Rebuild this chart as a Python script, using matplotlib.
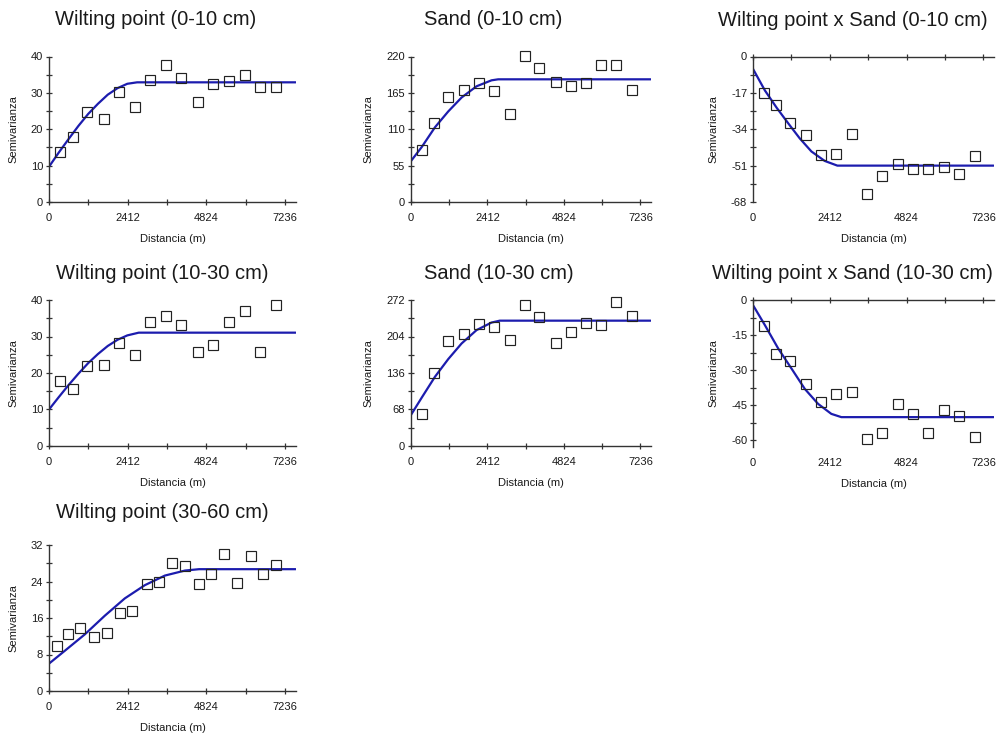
import matplotlib
matplotlib.use("Agg")
import matplotlib.pyplot as plt
from matplotlib.ticker import FixedLocator, FormatStrFormatter

plt.rcParams['font.family'] = ['Liberation Sans', 'DejaVu Sans']

# ---------------- data ----------------
titles = ["Wilting point (0-10 cm)", "Sand (0-10 cm)", "Wilting point x Sand (0-10 cm)",
          "Wilting point (10-30 cm)", "Sand (10-30 cm)", "Wilting point x Sand (10-30 cm)",
          "Wilting point (30-60 cm)"]
x_ticks = [0, 2412, 4824, 7236]
x_minor = [1206, 3618, 6030]

lags15 = [335, 728, 1171, 1677, 2148, 2622, 3107, 3596, 4053, 4562, 5040, 5511, 6007, 6477, 6959]
lags18 = [256, 583, 962, 1392, 1792, 2170, 2559, 2989, 3378, 3767, 4167, 4586, 4965, 5375,
          5764, 6194, 6572, 6961]

wp010 = [13.8, 18.0, 24.8, 22.9, 30.2, 26.2, 33.5, 37.8, 34.1, 27.4, 32.5, 33.2, 34.9, 31.6, 31.6]
sand010 = [79.2, 119.6, 158.4, 170.0, 179.6, 168.5, 133.2, 221.0, 202.8, 181.6, 175.0, 180.0,
           207.9, 206.4, 170.0]
wpxs010 = [-17.0, -22.6, -31.1, -36.5, -46.0, -45.6, -36.1, -64.1, -56.0, -50.1, -52.7, -52.7,
           -51.5, -55.1, -46.7]
wp1030 = [17.9, 15.5, 21.9, 22.3, 28.1, 24.8, 34.0, 35.5, 33.2, 25.8, 27.6, 34.0, 37.0, 25.8, 38.5]
sand1030 = [59.6, 135.4, 195.7, 209.3, 227.3, 221.1, 197.5, 263.4, 241.0, 191.9, 211.8, 229.2,
            225.5, 269.0, 241.6]
wpxs1030 = [-11.2, -23.3, -26.0, -36.2, -43.5, -40.3, -39.3, -59.7, -57.0, -44.5, -48.7, -57.0,
            -47.2, -49.5, -58.8]
wp3060 = [9.9, 12.6, 13.7, 11.8, 12.8, 17.2, 17.5, 23.4, 24.0, 28.0, 27.3, 23.4, 25.6, 30.0,
          23.6, 29.5, 25.6, 27.6]

# fitted model curves
c1_x = [0, 300, 600, 900, 1200, 1500, 1800, 2100, 2400, 2700, 7560]
c1_y = [9.7, 13.6, 17.3, 20.9, 24.2, 27.0, 29.5, 31.3, 32.5, 32.9, 32.9]
c2_x = [0, 337, 756, 1176, 1596, 2069, 2541, 2750, 7560]
c2_y = [62, 83, 113, 137, 158, 175, 184, 185.5, 185.5]
c3_x = [0, 375, 741, 1105, 1470, 1836, 2252, 2650, 7560]
c3_y = [-5.8, -15.9, -23.9, -31.2, -38.3, -44.4, -48.8, -51.0, -51.0]
c4_x = [0, 300, 600, 900, 1200, 1500, 1800, 2100, 2400, 2750, 7560]
c4_y = [10.0, 13.4, 16.7, 19.8, 22.7, 25.2, 27.4, 29.1, 30.3, 31.05, 31.05]
c5_x = [0, 337, 756, 1176, 1596, 2069, 2541, 2800, 7560]
c5_y = [58, 90, 129, 162, 191, 216, 230, 233.5, 233.5]
c6_x = [0, 375, 792, 1210, 1627, 2043, 2460, 2775, 7560]
c6_y = [-2.2, -10.8, -20.8, -29.4, -38.1, -44.5, -48.8, -50.2, -50.2]
c7_x = [0, 482, 1096, 1710, 2324, 2938, 3552, 4166, 4600, 7560]
c7_y = [6.0, 8.8, 12.4, 16.5, 20.3, 23.2, 25.3, 26.4, 26.7, 26.7]

y_major = [[0, 10, 20, 30, 40], [0, 55, 110, 165, 220], [0, -17, -34, -51, -68],
           [0, 10, 20, 30, 40], [0, 68, 136, 204, 272], [0, -15, -30, -45, -60],
           [0, 8, 16, 24, 32]]
y_minor = [[5, 15, 25, 35], [27.5, 82.5, 137.5, 192.5], [-8.5, -25.5, -42.5, -59.5],
           [5, 15, 25, 35], [34, 102, 170, 238], [-7.5, -22.5, -37.5, -52.5],
           [4, 12, 20, 28]]
y_lims = [(0, 40), (0, 220), (-68, 0), (0, 40), (0, 272), (-63, 0), (0, 32)]

panels = [
    (lags15, wp010, c1_x, c1_y),
    (lags15, sand010, c2_x, c2_y),
    (lags15, wpxs010, c3_x, c3_y),
    (lags15, wp1030, c4_x, c4_y),
    (lags15, sand1030, c5_x, c5_y),
    (lags15, wpxs1030, c6_x, c6_y),
    (lags18, wp3060, c7_x, c7_y),
]

# ---------------- layout (pixels) ----------------
W, H = 1001, 738
cols = [(49, 296), (411, 651), (753, 994)]
rows = [(56.5, 202), (300, 446), (545, 691)]
title_pos = [(155.5, 25), (493.5, 25), (853, 26),
             (162, 279), (499, 279), (852, 279),
             (162, 518)]
ylabel_x = [13.5, 368, 713]

fig = plt.figure(figsize=(W / 100, H / 100), dpi=100)
fig.patch.set_facecolor('white')

axis_col = '#333333'
txt_col = '#1a1a1a'
line_col = '#1c1cae'

for i, (lx, vals, cx, cy) in enumerate(panels):
    r, c = divmod(i, 3)
    l, rr = cols[c]
    t, b = rows[r]
    if i == 5:
        b = 447
    ax = fig.add_axes([l / W, 1 - b / H, (rr - l) / W, (b - t) / H])
    ax.set_facecolor('white')
    ax.plot(cx, cy, color=line_col, lw=1.6, zorder=2, solid_capstyle='round')
    ax.plot(lx, vals, linestyle='none', marker='s', markersize=6.6,
            markerfacecolor='none', markeredgecolor='#222222', markeredgewidth=0.85,
            zorder=3, clip_on=False)
    ax.set_xlim(0, 7570)
    ax.set_ylim(*y_lims[i])
    ax.xaxis.set_major_locator(FixedLocator(x_ticks))
    ax.xaxis.set_minor_locator(FixedLocator(x_minor))
    ax.yaxis.set_major_locator(FixedLocator(y_major[i]))
    ax.yaxis.set_minor_locator(FixedLocator(y_minor[i]))
    ax.yaxis.set_major_formatter(FormatStrFormatter('%g'))
    for s in ax.spines.values():
        s.set_color(axis_col)
        s.set_linewidth(1.0)
    ax.spines['right'].set_visible(False)
    neg = y_lims[i][1] == 0
    if neg:
        ax.spines['bottom'].set_visible(False)
        ax.spines['top'].set_visible(True)
        ax.tick_params(axis='x', which='both', bottom=False, top=True,
                       labelbottom=True, labeltop=False)
    else:
        ax.spines['top'].set_visible(False)
    ax.tick_params(axis='both', which='both', direction='inout', length=4.4,
                   width=0.9, color=axis_col, labelsize=8, labelcolor=txt_col)
    ax.tick_params(axis='x', which='major', pad=5.5)
    ax.tick_params(axis='y', which='major', pad=2.0)
    ax.set_xlabel("Distancia (m)", fontsize=8, color=txt_col)
    ax.set_ylabel("Semivarianza", fontsize=8, color=txt_col)
    ax.xaxis.label.set_va('center')
    ax.yaxis.label.set_va('center')
    ax.xaxis.set_label_coords(0.5, -(37.0) / (b - t))
    ax.yaxis.set_label_coords(-(l - ylabel_x[c]) / (rr - l), 0.5)

    tx, ty = title_pos[i]
    fig.text(tx / W, 1 - ty / H, titles[i], ha='center', va='baseline',
             fontsize=14.5, color=txt_col)

fig.savefig("out.png", dpi=100, facecolor='white')
